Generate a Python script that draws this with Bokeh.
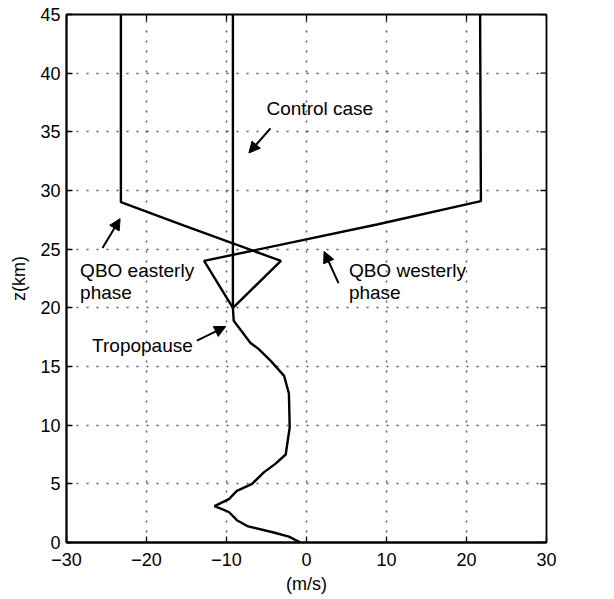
import math
from bokeh.plotting import figure
from bokeh.models import Range1d, FixedTicker, Arrow, NormalHead, Label
from bokeh.embed import file_html
from bokeh.resources import INLINE

# Control case wind profile (m/s) vs height (km)
control_u = [-0.75, -2.2, -4.1, -7.4, -8.7, -9.7, -11.5, -9.7, -8.7, -6.8, -5.3, -3.9,
             -2.6, -2.1, -2.2, -2.8, -4.5, -6.0, -7.0, -9.1, -9.2, -9.2]
control_z = [0.0, 0.5, 0.85, 1.4, 1.9, 2.6, 3.1, 3.7, 4.4, 5.0, 6.0, 6.7,
             7.5, 9.8, 12.7, 14.2, 15.5, 16.5, 17.0, 18.9, 20.0, 45.0]

# QBO easterly phase
east_u = [-9.2, -3.2, -15.3, -23.2, -23.2]
east_z = [20.0, 24.0, 27.0, 29.0, 45.0]

# QBO westerly phase
west_u = [-9.2, -12.8, 8.8, 21.8, 21.7]
west_z = [20.0, 24.0, 27.1, 29.1, 45.0]

x_ticks = [-30, -20, -10, 0, 10, 20, 30]
y_ticks = [0, 5, 10, 15, 20, 25, 30, 35, 40, 45]
x_min, x_max = -30, 30
y_min, y_max = 0, 45

FONT = "Liberation Sans"

p = figure(width=614, height=599, frame_width=480, frame_height=528,
           x_range=Range1d(x_min, x_max), y_range=Range1d(y_min, y_max),
           output_backend="svg", toolbar_location=None,
           min_border_left=66, min_border_right=68, min_border_top=14, min_border_bottom=57)
p.background_fill_color = "white"
p.border_fill_color = "white"
p.outline_line_color = "black"
p.outline_line_width = 1.8

for ax in (p.xaxis[0], p.yaxis[0]):
    ax.major_tick_in = 6
    ax.major_tick_out = 0
    ax.minor_tick_in = 0
    ax.minor_tick_out = 0
    ax.major_tick_line_width = 1.3
    ax.major_label_text_font = FONT
    ax.major_label_text_font_size = "18px"
    ax.major_label_text_color = "black"
    ax.axis_label_text_font = FONT
    ax.axis_label_text_font_size = "18px"
    ax.axis_label_text_font_style = "normal"
    ax.axis_label_text_color = "black"
    ax.axis_line_color = "black"
    ax.axis_line_width = 1.8

p.xaxis.ticker = FixedTicker(ticks=x_ticks)
p.yaxis.ticker = FixedTicker(ticks=y_ticks)
p.xaxis.major_label_overrides = {t: (("\u2212" + str(-t)) if t < 0 else str(t)) for t in x_ticks}
p.xaxis.axis_label = "(m/s)"
p.yaxis.axis_label = "z(km)"
p.xaxis.major_label_standoff = 10
p.yaxis.major_label_standoff = 6
p.xaxis.axis_label_standoff = 5
p.yaxis.axis_label_standoff = 8

# tick marks on top and right sides (clipped to the frame, so they point inward)
p.scatter(x=x_ticks, y=[y_max] * len(x_ticks), marker="dash", size=12,
          angle=math.pi / 2, line_color="black", line_width=1.3)
p.scatter(x=[x_max] * len(y_ticks), y=y_ticks, marker="dash", size=12,
          line_color="black", line_width=1.3)

p.xgrid.ticker = FixedTicker(ticks=x_ticks)
p.ygrid.ticker = FixedTicker(ticks=y_ticks)
for g in (p.xgrid[0], p.ygrid[0]):
    g.grid_line_color = "#333333"
    g.grid_line_dash = "2 8"
    g.grid_line_width = 1.5
    g.grid_line_alpha = 0.8

p.line(control_u, control_z, line_color="black", line_width=2.4)
p.line(east_u, east_z, line_color="black", line_width=2.4)
p.line(west_u, west_z, line_color="black", line_width=2.4)

def arrow(x0, y0, x1, y1):
    p.add_layout(Arrow(end=NormalHead(size=11, fill_color="black", line_color="black"),
                       x_start=x0, y_start=y0, x_end=x1, y_end=y1,
                       line_color="black", line_width=2))

arrow(-4.5, 35.3, -7.2, 33.2)
arrow(-25.5, 25.1, -23.3, 27.6)
arrow(4.0, 22.1, 2.2, 24.8)
arrow(-13.7, 17.2, -10.1, 18.4)

def label(x, y, t):
    p.add_layout(Label(x=x, y=y, text=t, text_font=FONT, text_font_size="19px",
                       text_color="black", text_baseline="middle", text_align="left"))

label(-5.0, 37.0, "Control case")
label(-28.3, 23.2, "QBO easterly")
label(-28.3, 21.3, "phase")
label(5.3, 23.2, "QBO westerly")
label(5.3, 21.3, "phase")
label(-26.8, 16.8, "Tropopause")

open("out.html", "w").write(file_html(p, INLINE))
